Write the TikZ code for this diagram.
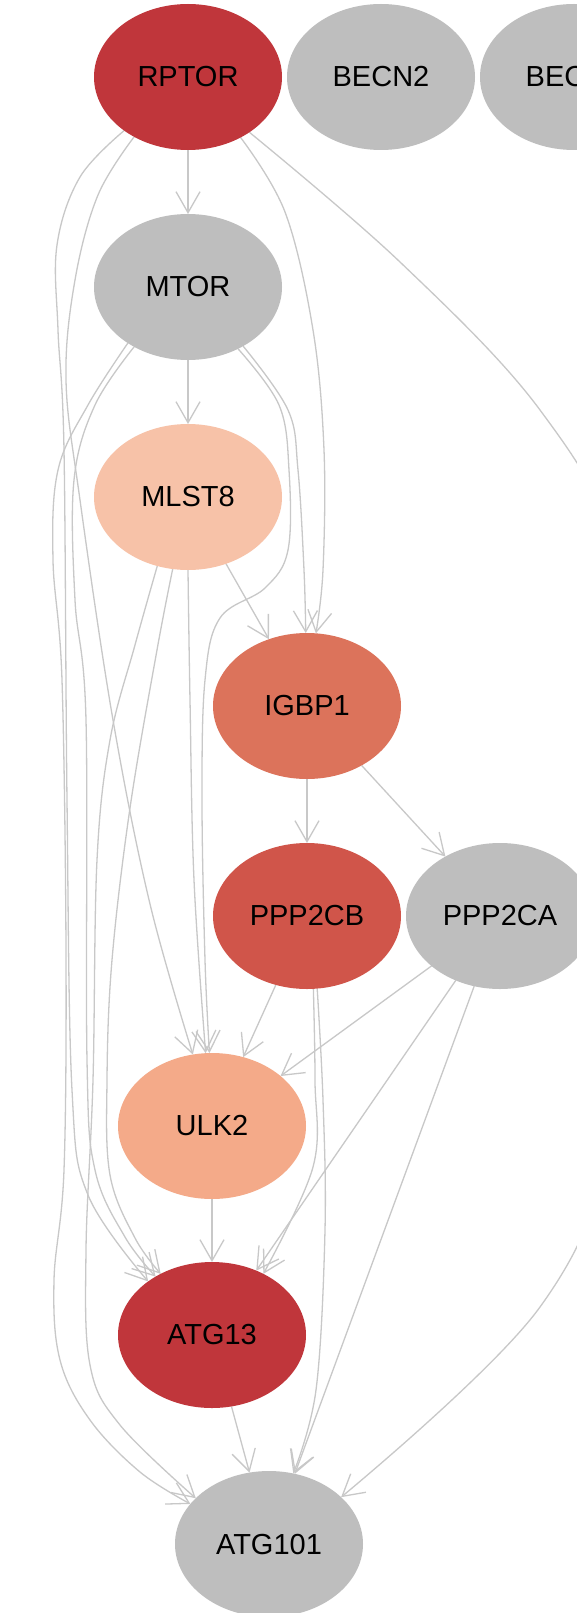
\documentclass[tikz,border=0pt]{standalone}
\usepackage{fontspec}
\setmainfont{Liberation Sans}
\usetikzlibrary{arrows.meta,shapes.geometric}
\definecolor{cred}{HTML}{C0363B}
\definecolor{cgray}{HTML}{BEBEBE}
\definecolor{cpeach}{HTML}{F7C2A8}
\definecolor{csalmon}{HTML}{DC735B}
\definecolor{cpb}{HTML}{D0554A}
\definecolor{culk}{HTML}{F4AA89}
\definecolor{edgec}{HTML}{C8C8C8}
\pgfdeclarelayer{bg}
\pgfdeclarelayer{paper}
\pgfsetlayers{paper,bg,main}
\begin{document}
\begin{tikzpicture}[x=1pt,y=-1pt,
  vtx/.style={ellipse, minimum width=188pt, minimum height=146pt, inner sep=0pt, outer sep=0pt,
    font=\fontsize{29}{34}\selectfont, text=black},
  edge/.style={draw=edgec, line width=1.3pt, -{Straight Barb[length=21pt,width=24pt]}},
  sm/.style={smooth, tension=0.6}]
\useasboundingbox (0,0) rectangle (577,1613);
\begin{pgfonlayer}{paper}
\fill[white] (0,0) rectangle (577,1613);
\end{pgfonlayer}
\clip (0,0) rectangle (577,1613);

\node[vtx, fill=cred] (RPTOR) at (188,77) {RPTOR};
\node[vtx, fill=cgray] (BECN2) at (381,77) {BECN2};
\node[vtx, fill=cgray] (BECN1) at (574,77) {BECN1};
\node[vtx, fill=cgray] (MTOR) at (188,287) {MTOR};
\node[vtx, fill=cpeach] (MLST8) at (188,497) {MLST8};
\node[vtx, fill=csalmon] (IGBP1) at (307,706) {IGBP1};
\node[vtx, fill=cpb] (PPP2CB) at (307,916) {PPP2CB};
\node[vtx, fill=cgray] (PPP2CA) at (500,916) {PPP2CA};
\node[vtx, fill=culk] (ULK2) at (212,1126) {ULK2};
\node[vtx, fill=cred] (ATG13) at (212,1335) {ATG13};
\node[vtx, fill=cgray] (ATG101) at (269,1544) {ATG101};

\begin{pgfonlayer}{bg}
\clip (0,0) rectangle (577,1613);
% straight edges
\draw[edge] (RPTOR) -- (MTOR);
\draw[edge] (MTOR) -- (MLST8);
\draw[edge] (MLST8) -- (IGBP1);
\draw[edge] (IGBP1) -- (PPP2CB);
\draw[edge] (IGBP1) -- (PPP2CA);
\draw[edge] (PPP2CB) -- (ULK2);
\draw[edge] (PPP2CA) -- (ULK2);
\draw[edge] (ULK2) -- (ATG13);
\draw[edge] (ATG13) -- (ATG101);
\draw[edge] (PPP2CA) -- (ATG13);
\draw[edge] (PPP2CA) -- (ATG101);
% curved edges
\draw[edge] plot[sm] coordinates {(RPTOR.311) (285,212) (313,330) (324,450) (323,570) (IGBP1.83)};
\draw[edge] plot[sm] coordinates {(MTOR.313) (288,410) (298,470) (304,570) (IGBP1.91)};
\draw[edge] plot[sm] coordinates {(MTOR.309) (279,405) (289,470) (288,550) (265,588) (220,618) (205,680) (202,800) (205,960) (ULK2.92)};
\draw[edge] plot[sm] coordinates {(MLST8.270) (190,700) (194,880) (ULK2.95)};
\draw[edge] plot[sm] coordinates {(RPTOR.228) (98,195) (75,280) (66,380) (80,500) (113,720) (150,904) (ULK2.105)};
\draw[edge] plot[sm] coordinates {(RPTOR.220) (80,177) (57,245) (58,330) (64,450) (67,800) (72,1090) (88,1195) (ATG13.140)};
\draw[edge] plot[sm] coordinates {(MTOR.223) (88,405) (58,470) (53,560) (62,680) (66,950) (64,1170) (54,1280) (60,1360) (90,1420) (140,1472) (ATG101.153)};
\draw[edge] plot[sm] coordinates {(MTOR.228) (95,405) (74,480) (75,600) (86,720) (87,1060) (95,1170) (125,1237) (ATG13.134)};
\draw[edge] plot[sm] coordinates {(MLST8.246) (135,645) (110,740) (97,860) (93,1080) (86,1250) (90,1365) (120,1425) (ATG101.148)};
\draw[edge] plot[sm] coordinates {(MLST8.258) (157,650) (130,808) (112,960) (107,1080) (110,1175) (135,1238) (ATG13.130)};
\draw[edge] plot[sm] coordinates {(PPP2CB.275) (315,1080) (313,1167) (ATG13.50)};
\draw[edge] plot[sm] coordinates {(PPP2CB.278) (323,1100) (325,1230) (316,1390) (ATG101.71)};
\draw[edge] plot[sm] coordinates {(RPTOR.318) (400,262) (540,410) (620,560) (650,800) (620,1110) (540,1307) (ATG101.33)};
\end{pgfonlayer}
\end{tikzpicture}
\end{document}
